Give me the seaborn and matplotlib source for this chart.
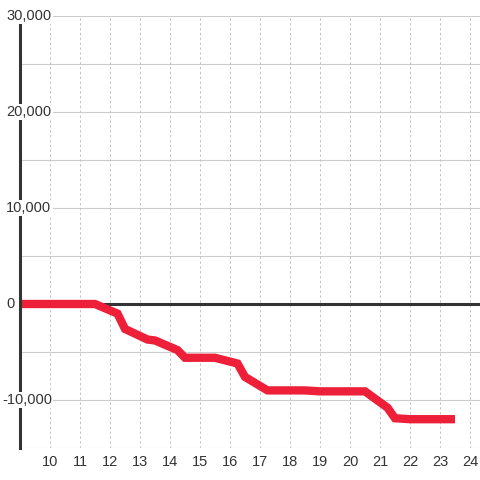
import numpy as np
import matplotlib
matplotlib.use('Agg')
import matplotlib.pyplot as plt
import seaborn as sns
import pandas as pd

# values
hours = [9, 11.5, 12.25, 12.5, 13.25, 13.5, 14.25, 14.5, 15.5, 16.25, 16.5,
         17.25, 18.5, 19, 20.5, 21.25, 21.5, 22, 23.5]
balance = [0, 0, -1000, -2600, -3700, -3800, -4800, -5600, -5600, -6200, -7600,
           -9000, -9000, -9100, -9100, -10800, -11900, -12000, -12000]
x_ticks = list(range(10, 25))
y_labels = [30000, 20000, 10000, 0, -10000]
y_grid = list(range(-15000, 30001, 5000))

df = pd.DataFrame({'hour': hours, 'balance': balance})

sns.set_theme(style='white')
plt.rcParams['font.family'] = ['Liberation Sans', 'DejaVu Sans']

fig = plt.figure(figsize=(4.8, 4.8), dpi=100)
ax = fig.add_axes([20 / 480, 32 / 480, 460 / 480, 432 / 480])

# grid
for y in y_grid:
    ax.axhline(y, color='#cccccc', lw=0.8, zorder=1)
for x in x_ticks:
    ax.axvline(x, color='#c4c4c4', lw=0.7, ls=(0, (2.5, 2.5)), zorder=1)
ax.axhline(0, color='#333333', lw=2.2, zorder=2)

sns.lineplot(data=df, x='hour', y='balance', color='#ee1f38', lw=6,
             ax=ax, zorder=3, solid_joinstyle='miter', solid_capstyle='butt')

ax.set_xlim(9, 9 + 460 / 30)
ax.set_ylim(-15000, 30000)
ax.set_xticks(x_ticks)
ax.set_xticklabels([str(t) for t in x_ticks])
ax.set_yticks([])
ax.tick_params(axis='x', length=0, pad=5, labelsize=10.5, labelcolor='#333333')
ax.set_xlabel('')
ax.set_ylabel('')

for s in ['top', 'right', 'bottom']:
    ax.spines[s].set_visible(False)
ax.spines['left'].set_color('#333333')
ax.spines['left'].set_linewidth(2.2)
ax.spines['left'].set_zorder(4)

for v in y_labels:
    ax.text(-14 / 460 if v >= 0 else -18 / 460, v, f'{v:,}',
            transform=ax.get_yaxis_transform(), ha='left', va='center',
            fontsize=10.5, color='#333333', clip_on=False, zorder=5,
            bbox=dict(facecolor='white', edgecolor='none', pad=1.0))

fig.savefig('out.png', dpi=100)
